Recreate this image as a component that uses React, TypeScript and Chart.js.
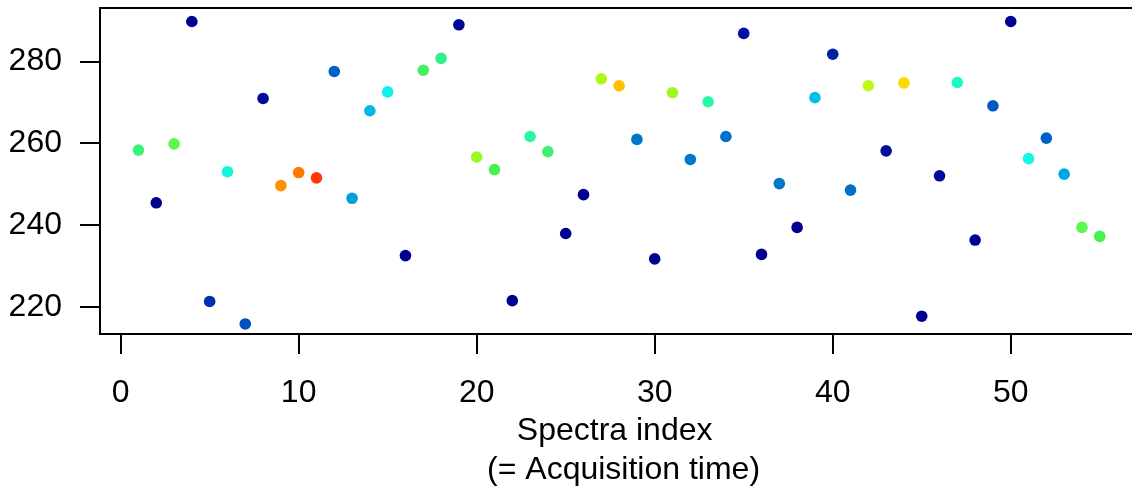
import React, { useEffect, useRef } from "react";
import { Chart, registerables } from "chart.js";

Chart.register(...registerables);

const spectraIndex = [
  1, 2, 3, 4, 5, 6, 7, 8, 9, 10, 11, 12, 13, 14, 15, 16, 17, 18, 19, 20,
  21, 22, 23, 24, 25, 26, 27, 28, 29, 30, 31, 32, 33, 34, 35, 36, 37, 38, 39, 40,
  41, 42, 43, 44, 45, 46, 47, 48, 49, 50, 51, 52, 53, 54, 55,
];

const intensity = [
  258.4, 245.5, 259.9, 289.8, 221.4, 253.1, 215.9, 271.0, 249.7, 252.9,
  251.6, 277.6, 246.6, 268.0, 272.6, 232.6, 277.9, 280.8, 289.0, 256.7,
  253.6, 221.6, 261.7, 258.0, 238.0, 247.5, 275.8, 274.1, 261.0, 231.8,
  272.4, 256.1, 270.2, 261.7, 286.9, 232.9, 250.2, 239.5, 271.2, 281.8,
  248.6, 274.1, 258.2, 274.8, 217.8, 252.1, 274.9, 236.4, 269.2, 289.8,
  256.3, 261.3, 252.5, 239.5, 237.3,
];

const pointColors = [
  "#3cf37c", "#00008f", "#5ff74e", "#000090", "#0030b0", "#12f5dc", "#0050c0", "#000a96", "#ff9000", "#ff7a00",
  "#ff3a00", "#0060c8", "#00a0d8", "#00b8e8", "#10f0e8", "#000090", "#44f060", "#30f08a", "#000890", "#98f820",
  "#4af050", "#000090", "#28f8a0", "#40f070", "#000090", "#000090", "#b0f818", "#ffc000", "#0078c8", "#000090",
  "#a0f820", "#0078cc", "#28f8a8", "#0070c8", "#0010a0", "#000090", "#0078c8", "#000090", "#00c0e8", "#0020a0",
  "#0070c8", "#c0f818", "#001098", "#ffd800", "#000090", "#000c98", "#18f8c8", "#000090", "#0058c0", "#000090",
  "#18f8e0", "#0060c8", "#00a8e0", "#5cf850", "#48f050",
];

const xTicks = [0, 10, 20, 30, 40, 50];
const yTicks = [220, 240, 260, 280];
const xTitle = ["Spectra index ", " (= Acquisition time)"];

const FONT = "'Liberation Sans', Arial, Helvetica, sans-serif";

const boxPlugin = {
  id: "rbox",
  afterDraw(chart: any) {
    const { ctx, chartArea } = chart;
    const { left, top, right, bottom } = chartArea;
    ctx.save();
    ctx.strokeStyle = "#000";
    ctx.lineWidth = 2;
    ctx.strokeRect(left, top, right - left, bottom - top);
    ctx.restore();
  },
};

export default function App() {
  const ref = useRef<HTMLCanvasElement | null>(null);

  useEffect(() => {
    if (!ref.current) return;
    const points = spectraIndex.map((x, i) => ({ x, y: intensity[i] }));
    const chart = new Chart(ref.current, {
      type: "scatter",
      data: {
        datasets: [
          {
            data: points,
            pointBackgroundColor: pointColors,
            pointBorderWidth: 0,
            pointBorderColor: pointColors,
            pointRadius: 5.8,
            pointHoverRadius: 5.8,
          },
        ],
      },
      options: {
        animation: false,
        responsive: false,
        devicePixelRatio: 1,
        layout: { padding: { top: 8, right: 3, left: 0, bottom: 0 } },
        plugins: {
          legend: { display: false },
          tooltip: { enabled: false },
        },
        events: [],
        scales: {
          x: {
            type: "linear",
            min: -1.16,
            max: 57.16,
            afterBuildTicks: (scale: any) => {
              scale.ticks = xTicks.map((v) => ({ value: v }));
            },
            afterFit: (scale: any) => {
              scale.height = 154;
              scale.paddingLeft = 0;
              scale.paddingRight = 0;
            },
            border: { display: false },
            grid: {
              display: true,
              drawOnChartArea: false,
              drawTicks: true,
              tickLength: 20,
              lineWidth: 2,
              color: "#000",
              tickColor: "#000",
            },
            ticks: {
              color: "#000",
              padding: 20,
              maxRotation: 0,
              autoSkip: false,
              font: { family: FONT, size: 32 },
            },
            title: {
              display: true,
              text: xTitle,
              color: "#000",
              font: { family: FONT, size: 32 },
              padding: { top: 0, bottom: -1 },
            },
          },
          y: {
            type: "linear",
            min: 213.45,
            max: 293.1,
            afterBuildTicks: (scale: any) => {
              scale.ticks = yTicks.map((v) => ({ value: v }));
            },
            afterFit: (scale: any) => {
              scale.width = 100;
              scale.paddingTop = 0;
              scale.paddingBottom = 0;
            },
            border: { display: false },
            grid: {
              display: true,
              drawOnChartArea: false,
              drawTicks: true,
              tickLength: 20,
              lineWidth: 2,
              color: "#000",
              tickColor: "#000",
            },
            ticks: {
              color: "#000",
              padding: 18,
              autoSkip: false,
              font: { family: FONT, size: 32 },
            },
          },
        },
      },
      plugins: [boxPlugin],
    } as any);
    return () => chart.destroy();
  }, []);

  return (
    <div
      style={{
        position: "absolute",
        left: 0,
        top: 0,
        width: 1132,
        height: 488,
        overflow: "hidden",
        background: "#fff",
      }}
    >
      <canvas ref={ref} width={1144} height={488} style={{ display: "block", width: 1144, height: 488 }} />
    </div>
  );
}
